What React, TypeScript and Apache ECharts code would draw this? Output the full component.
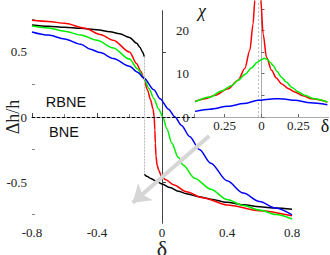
import React, { useEffect, useRef } from 'react';
import * as echarts from 'echarts';

// Main panel: δ vs Δh/h
const blackUpper: number[][] = [[-0.8,0.708],[-0.7,0.698],[-0.6,0.69],[-0.5,0.682],[-0.4,0.671],[-0.32,0.656],[-0.26,0.64],[-0.2,0.612],[-0.156,0.567],[-0.135,0.535],[-0.12,0.5],[-0.109,0.464]];
const blackLower: number[][] = [[-0.109,-0.44],[-0.09,-0.458],[-0.07,-0.472],[-0.04,-0.49],[0,-0.515],[0.05,-0.543],[0.1,-0.57],[0.15,-0.59],[0.234,-0.615],[0.3,-0.632],[0.4,-0.656],[0.5,-0.675],[0.6,-0.69],[0.7,-0.7],[0.8,-0.71]];
const redMain: number[][] = [[-0.8,0.744],[-0.7,0.735],[-0.6,0.72],[-0.474,0.683],[-0.38,0.635],[-0.3,0.59],[-0.2,0.5],[-0.156,0.41],[-0.13,0.35],[-0.112,0.297],[-0.09,0.21],[-0.07,0.13],[-0.055,0.06],[-0.048,0],[-0.044,-0.1],[-0.041,-0.2],[-0.037,-0.3],[-0.03,-0.37],[-0.02,-0.41],[-0.005,-0.45],[0.02,-0.48],[0.07,-0.52],[0.15,-0.575],[0.25,-0.62],[0.4,-0.676],[0.6,-0.72],[0.8,-0.76]];
const greenMain: number[][] = [[-0.8,0.7],[-0.7,0.685],[-0.6,0.66],[-0.5,0.63],[-0.4,0.59],[-0.3,0.53],[-0.2,0.445],[-0.15,0.37],[-0.112,0.3],[-0.08,0.22],[-0.05,0.14],[-0.02,0.06],[0.005,0],[0.03,-0.09],[0.06,-0.2],[0.1,-0.31],[0.13,-0.37],[0.2,-0.47],[0.3,-0.555],[0.4,-0.635],[0.5,-0.68],[0.6,-0.715],[0.7,-0.75],[0.8,-0.784]];
const blueMain: number[][] = [[-0.8,0.654],[-0.7,0.63],[-0.6,0.6],[-0.5,0.56],[-0.44,0.52],[-0.38,0.495],[-0.3,0.45],[-0.2,0.39],[-0.15,0.345],[-0.112,0.3],[-0.05,0.21],[-0.012,0.14],[0.04,0.06],[0.08,0],[0.12,-0.065],[0.17,-0.15],[0.23,-0.25],[0.3,-0.355],[0.4,-0.49],[0.5,-0.585],[0.6,-0.65],[0.7,-0.7],[0.8,-0.753]];

// Inset: δ vs χ
const redInset: number[][] = [[-0.45,3.6],[-0.38,4.2],[-0.316,5.0],[-0.226,6.5],[-0.158,8.5],[-0.113,11.2],[-0.079,15.4],[-0.057,21.5],[-0.045,27],[-0.035,36],[-0.025,48],[-0.015,36],[-0.005,27],[0.011,19.2],[0.034,13.8],[0.068,10.8],[0.1,9.0],[0.135,7.7],[0.18,6.6],[0.225,5.8],[0.28,4.9],[0.338,4.2],[0.446,3.46]];
const greenInset: number[][] = [[-0.45,3.5],[-0.35,4.6],[-0.27,6.0],[-0.2,7.3],[-0.158,8.5],[-0.11,9.9],[-0.068,11.3],[-0.03,12.6],[0,13.3],[0.02,13.6],[0.04,13.3],[0.06,12.6],[0.079,11.9],[0.105,10.5],[0.135,9.2],[0.17,8.0],[0.203,6.9],[0.25,5.8],[0.293,5.0],[0.35,4.3],[0.446,3.46]];
const blueInset: number[][] = [[-0.45,1.3],[-0.35,1.8],[-0.226,2.47],[-0.12,3.1],[-0.023,3.85],[0.09,4.24],[0.15,4.15],[0.225,3.85],[0.33,3.3],[0.446,2.85]];

const mainYLabels = [-0.5, 0, 0.5];
const mainYMinor = [-0.75, -0.25, 0.25, 0.75];
const insetXLabels = [-0.25, 0, 0.25];
const insetYLabels = [0, 10, 20];
const insetYTicks = [0, 5, 10, 15, 20, 25];

const jumpX = -0.109;
const jumpTop = 0.464;
const jumpBottom = -0.44;
const arrowFrom = [0.29, -0.146];
const arrowTo = [-0.18, -0.66];
const insetPeakX = -0.023;

const SERIF = 'Liberation Serif';
const SANS = 'Liberation Sans';

export default function App() {
  const ref = useRef<HTMLDivElement>(null);
  useEffect(() => {
    document.body.style.margin = '0';
    const chart = echarts.init(ref.current!, null, { renderer: 'svg' });
    const lab = { fontFamily: SERIF, fontSize: 13, color: '#222' };
    const line = (data: number[][], color: string, xi: number, yi: number, extra: any = {}) => ({
      type: 'line', data, xAxisIndex: xi, yAxisIndex: yi, showSymbol: false, symbol: 'none',
      smooth: 0.3, smoothMonotone: 'x', lineStyle: { color, width: 1.5 }, silent: true, ...extra,
    });
    const option: any = {
      animation: false,
      grid: [
        { left: 32, top: 11, width: 260, height: 212, z: 0, containLabel: false, outerBoundsMode: 'none' },
        { left: 195, top: 1, width: 133, height: 116, show: true, backgroundColor: '#fff', borderWidth: 0, z: 5, containLabel: false, outerBoundsMode: 'none' },
      ],
      xAxis: [
        {
          gridIndex: 0, type: 'value', min: -0.8, max: 0.8, interval: 0.4,
          axisLine: { lineStyle: { color: '#222', width: 1 } },
          axisTick: { inside: true, length: 4, lineStyle: { color: '#444' } },
          minorTick: { show: true, splitNumber: 2, length: 3, lineStyle: { color: '#888' } },
          axisLabel: { ...lab, margin: 3, formatter: (v: number) => (v === 0 ? '0' : String(v)) },
          splitLine: { show: false },
          name: 'δ', nameLocation: 'middle', nameGap: 14, nameMoveOverlap: false,
          nameTextStyle: { fontFamily: SERIF, fontSize: 22, color: '#222' },
        },
        {
          gridIndex: 0, type: 'value', position: 'top', min: -0.8, max: 0.8,
          axisLine: { lineStyle: { color: '#aaa' } }, axisTick: { show: false }, axisLabel: { show: false }, splitLine: { show: false },
        },
        {
          gridIndex: 1, type: 'value', min: -0.45, max: 0.45, z: 6,
          axisLine: { lineStyle: { color: '#222' } },
          axisTick: { inside: true, length: 3, customValues: insetXLabels, lineStyle: { color: '#666' } },
          axisLabel: { ...lab, margin: 2, customValues: insetXLabels, formatter: (v: number) => (v === 0 ? '0' : String(Math.abs(v))) },
          splitLine: { show: false },
        },
        {
          gridIndex: 1, type: 'value', position: 'top', min: -0.45, max: 0.45, z: 6,
          axisLine: { lineStyle: { color: '#aaa' } }, axisTick: { show: false }, axisLabel: { show: false }, splitLine: { show: false },
        },
      ],
      yAxis: [
        {
          gridIndex: 0, type: 'value', min: -0.815, max: 0.815,
          axisLine: { show: true, lineStyle: { color: '#222' } },
          axisTick: { show: true, inside: true, length: 4, customValues: mainYLabels, lineStyle: { color: '#444' } },
          axisLabel: { ...lab, margin: 5, customValues: mainYLabels, formatter: (v: number) => (v === 0 ? '0' : String(v)) },
          splitLine: { show: false },
          name: 'Δh/h', nameLocation: 'middle', nameRotate: 90, nameGap: 10, nameMoveOverlap: false,
          nameTextStyle: { fontFamily: SERIF, fontSize: 18, color: '#222' },
        },
        {
          gridIndex: 0, type: 'value', position: 'right', min: -0.815, max: 0.815,
          axisLine: { show: true, lineStyle: { color: '#444' } }, axisTick: { show: false }, axisLabel: { show: false }, splitLine: { show: false },
        },
        {
          gridIndex: 0, type: 'value', position: 'left', min: -0.815, max: 0.815,
          axisLine: { show: false },
          axisTick: { show: true, inside: true, length: 3, customValues: mainYMinor, lineStyle: { color: '#888' } },
          axisLabel: { show: false }, splitLine: { show: false },
        },
        {
          gridIndex: 1, type: 'value', min: 0, max: 26.8, z: 6,
          axisLine: { show: true, lineStyle: { color: '#222' } },
          axisTick: { show: true, inside: true, length: 3, customValues: insetYTicks, lineStyle: { color: '#666' } },
          axisLabel: { ...lab, margin: 6, customValues: insetYLabels },
          splitLine: { show: false },
        },
        {
          gridIndex: 1, type: 'value', position: 'right', min: 0, max: 26.8, z: 6,
          axisLine: { show: true, lineStyle: { color: '#aaa' } }, axisTick: { show: false }, axisLabel: { show: false }, splitLine: { show: false },
        },
      ],
      series: [
        line(blackUpper, '#000', 0, 0, {
          markLine: {
            silent: true, symbol: 'none', label: { show: false },
            data: [
              [{ coord: [-0.8, 0], lineStyle: { color: '#000', type: [3, 2], width: 1 } }, { coord: [0.8, 0] }],
              [{ coord: [jumpX, jumpTop], lineStyle: { color: '#bbb', type: [2, 1], width: 1 } }, { coord: [jumpX, jumpBottom] }],
            ],
          },
        }),
        line(blackLower, '#000', 0, 0, {
          markLine: {
            silent: true, symbol: ['none', 'arrow'], symbolSize: [17, 17], label: { show: false },
            lineStyle: { color: '#d6d6d6', width: 4, type: 'solid' },
            data: [[{ coord: arrowFrom }, { coord: arrowTo }]],
          },
        }),
        line(redMain, '#ff0000', 0, 0),
        line(greenMain, '#00ee00', 0, 0),
        line(blueMain, '#0000ff', 0, 0),
        line(redInset, '#ff0000', 2, 3, {
          z: 7,
          markLine: {
            silent: true, symbol: 'none', label: { show: false },
            lineStyle: { color: '#bbb', type: [2, 2], width: 1 },
            data: [{ xAxis: insetPeakX }],
          },
        }),
        line(greenInset, '#00ee00', 2, 3, { z: 7 }),
        line(blueInset, '#0000ff', 2, 3, { z: 7 }),
      ],
      graphic: [
        { type: 'text', x: 66, y: 102, z: 10, style: { text: 'RBNE', font: `14.5px "${SANS}"`, fill: '#111', textAlign: 'center', textVerticalAlign: 'middle' } },
        { type: 'text', x: 64, y: 132, z: 10, style: { text: 'BNE', font: `14.5px "${SANS}"`, fill: '#111', textAlign: 'center', textVerticalAlign: 'middle' } },
        { type: 'text', x: 202, y: 11, z: 10, style: { text: 'χ', font: `italic 18px "${SERIF}"`, fill: '#111', textAlign: 'center', textVerticalAlign: 'middle' } },
        { type: 'text', x: 325, y: 126, z: 10, style: { text: 'δ', font: `18px "${SERIF}"`, fill: '#111', textAlign: 'center', textVerticalAlign: 'middle' } },
      ],
    };
    chart.setOption(option);
    return () => chart.dispose();
  }, []);
  return <div ref={ref} style={{ width: 330, height: 255 }} />;
}
